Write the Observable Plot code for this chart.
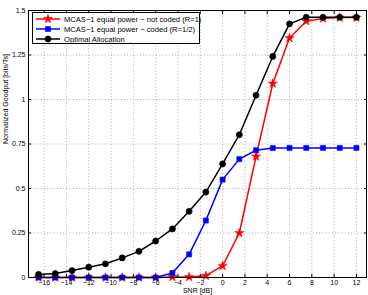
<!DOCTYPE html>
<html>
<head>
<meta charset="utf-8">
<script src="https://cdn.jsdelivr.net/npm/d3@7"></script>
<script src="https://cdn.jsdelivr.net/npm/@observablehq/plot@0.6"></script>
<style>
  html, body { margin: 0; padding: 0; background: #fff; }
  #chart { position: relative; width: 368px; height: 295px; }
  .legend {
    position: absolute; left: 32px; top: 12px; width: 166px; height: 30px;
    border: 1px solid #000; background: #fff;
    font: 7.6px "Liberation Sans", Arial, Helvetica, sans-serif; color: #000;
  }
  .legend .row { position: absolute; left: 0; height: 10px; display: flex; align-items: center; white-space: nowrap; }
  .legend svg { display: block; margin-left: 3px; margin-right: 4px; }
</style>
</head>
<body>
<div id="chart"></div>
<script>
// SNR grid (dB) and normalized goodput (bits/Ts) for each scheme
const snr = [-16.5, -15, -13.5, -12, -10.5, -9, -7.5, -6, -4.5, -3, -1.5, 0, 1.5, 3, 4.5, 6, 7.5, 9, 10.5, 12];
const uncoded = [0, 0, 0, 0, 0, 0, 0, 0, 0.003, 0.003, 0.01, 0.065, 0.25, 0.68, 1.09, 1.345, 1.44, 1.455, 1.46, 1.46];
const coded = [0, 0, 0, 0, 0, 0, 0, 0, 0.025, 0.13, 0.32, 0.55, 0.665, 0.715, 0.727, 0.728, 0.728, 0.728, 0.728, 0.728];
const optimal = [0.017, 0.022, 0.039, 0.058, 0.077, 0.11, 0.147, 0.205, 0.273, 0.372, 0.48, 0.638, 0.802, 1.024, 1.242, 1.425, 1.462, 1.462, 1.462, 1.462];

const seriesNames = [
  "MCAS\u22121 equal power \u2212 not coded (R=1)",
  "MCAS\u22121 equal power \u2212 coded (R=1/2)",
  "Optimal Allocation"
];
const seriesColors = ["#ff0000", "#0000ff", "#000000"];
const seriesSymbols = ["star", "square", "circle"];
const seriesRadius = [2.9, 2.9, 3.1];
const seriesValues = [uncoded, coded, optimal];

const xTicks = [-16, -14, -12, -10, -8, -6, -4, -2, 0, 2, 4, 6, 8, 10, 12];
const yTicks = [0, 0.25, 0.5, 0.75, 1, 1.25, 1.5];

const fmt = d => (d < 0 ? "\u2212" + (-d) : String(d));
const blank = () => "";

const rows = seriesValues.flatMap((vals, s) =>
  snr.map((x, i) => ({series: s, x, y: vals[i]}))
);

const grid = {stroke: "#9a9a9a", strokeOpacity: 1, strokeWidth: 0.8, strokeDasharray: "1,2.2"};

const seriesMarks = seriesValues.flatMap((vals, s) => {
  const data = rows.filter(d => d.series === s);
  return [
    Plot.line(data, {x: "x", y: "y", stroke: seriesColors[s], strokeWidth: 1.5}),
    Plot.dot(data, {x: "x", y: "y", symbol: () => seriesSymbols[s], r: seriesRadius[s],
      fill: seriesColors[s], stroke: seriesColors[s], strokeWidth: 0.5})
  ];
});

// inward-pointing tick marks on all four sides of the box
const inward = 3;

const chart = Plot.plot({
  width: 368,
  height: 295,
  marginLeft: 28,
  marginRight: 2,
  marginTop: 10,
  marginBottom: 18,
  style: {fontFamily: "'Liberation Sans', Arial, Helvetica, sans-serif", fontSize: "7px", background: "#fff", color: "#000"},
  x: {domain: [-17.4, 12.9]},
  y: {domain: [0, 1.5]},
  marks: [
    Plot.gridX(xTicks, grid),
    Plot.gridY(yTicks, grid),
    ...seriesMarks,
    Plot.frame({stroke: "#000", strokeWidth: 1}),
    Plot.axisX(xTicks, {anchor: "bottom", tickSize: 0, tickPadding: 3, tickFormat: fmt, label: null}),
    Plot.axisX(xTicks, {anchor: "bottom", tickSize: inward, dy: -inward, tickFormat: blank, label: null}),
    Plot.axisX(xTicks, {anchor: "top", tickSize: inward, dy: inward, tickFormat: blank, label: null}),
    Plot.axisY(yTicks, {anchor: "left", tickSize: 0, tickPadding: 3, tickFormat: fmt, label: null}),
    Plot.axisY(yTicks, {anchor: "left", tickSize: inward, dx: inward, tickFormat: blank, label: null}),
    Plot.axisY(yTicks, {anchor: "right", tickSize: inward, dx: -inward, tickFormat: blank, label: null}),
    Plot.text(["SNR [dB]"], {frameAnchor: "bottom", dy: 15, fontSize: 7}),
    Plot.text(["Normalized Goodput [bits/Ts]"], {frameAnchor: "left", rotate: -90, dx: -23, fontSize: 7})
  ]
});

const host = document.getElementById("chart");
host.appendChild(chart);

// Legend box in the upper-left corner of the plot area
const legend = document.createElement("div");
legend.className = "legend";
seriesNames.forEach((name, s) => {
  const row = document.createElement("div");
  row.className = "row";
  row.style.top = (1 + s * 10) + "px";
  const sw = d3.create("svg").attr("width", 24).attr("height", 10);
  sw.append("line").attr("x1", 0).attr("x2", 24).attr("y1", 5).attr("y2", 5)
    .attr("stroke", seriesColors[s]).attr("stroke-width", 1.5);
  const sym = {star: d3.symbolStar, square: d3.symbolSquare, circle: d3.symbolCircle}[seriesSymbols[s]];
  const r = seriesRadius[s];
  sw.append("path").attr("transform", "translate(12,5)")
    .attr("d", d3.symbol(sym, Math.PI * r * r)())
    .attr("fill", seriesColors[s]).attr("stroke", seriesColors[s]).attr("stroke-width", 0.5);
  row.appendChild(sw.node());
  const label = document.createElement("span");
  label.textContent = name;
  row.appendChild(label);
  legend.appendChild(row);
});
host.appendChild(legend);
</script>
</body>
</html>
